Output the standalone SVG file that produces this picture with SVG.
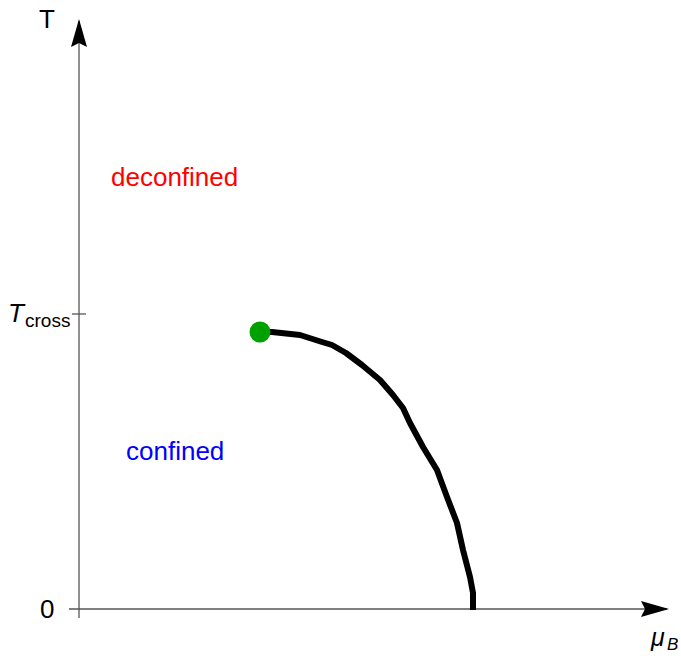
<svg xmlns="http://www.w3.org/2000/svg" width="681" height="656" viewBox="0 0 681 656">
<style>
.ax{stroke:#555;stroke-width:1.3;fill:none}
.lbl{font-family:"Liberation Sans",Arial,sans-serif;font-size:26px}
</style>
<defs>
<marker id="ah" viewBox="0 0 28 16" refX="26" refY="8" markerWidth="28" markerHeight="16" markerUnits="userSpaceOnUse" orient="auto">
<path d="M0,0 L28,8 L0,16 L4,8 Z" fill="#000"/>
</marker>
</defs>
<rect width="681" height="656" fill="#fff"/>
<g id="axes">
<line class="ax" x1="79" y1="618" x2="79" y2="21" marker-end="url(#ah)"/>
<line class="ax" x1="69" y1="609" x2="667" y2="609" marker-end="url(#ah)"/>
<line class="ax" x1="72" y1="314" x2="86" y2="314"/>
</g>
<g id="labels">
<text class="lbl" x="39" y="28">T</text>
<text class="lbl" x="8" y="322" font-style="italic">T</text>
<text class="lbl" x="25" y="327" style="font-size:19px">cross</text>
<text class="lbl" x="40" y="618">0</text>
<text class="lbl" x="651" y="646" font-style="italic" style="font-size:25px">μ</text>
<text class="lbl" x="667" y="650" font-style="italic" style="font-size:17px">B</text>
</g>
<g id="deconfined"><text class="lbl" x="111" y="186" fill="#f00">deconfined</text></g>
<g id="confined"><text class="lbl" x="126" y="460" fill="#00f">confined</text></g>
<g id="connectors">
<path d="M262,332 L272,332 L300,335 L322,342 L332,345 L346,353 L362,365 L380,380 L393,395 L403,408 L410,423 L423,447 L437,470 L447,497 L457,523 L463,550 L470,577 L473,593 L473,610" fill="none" stroke="#000" stroke-width="6" stroke-linejoin="round"/>
</g>
<g id="endpoint"><circle cx="260" cy="332" r="10.5" fill="#00a000"/></g>
</svg>
